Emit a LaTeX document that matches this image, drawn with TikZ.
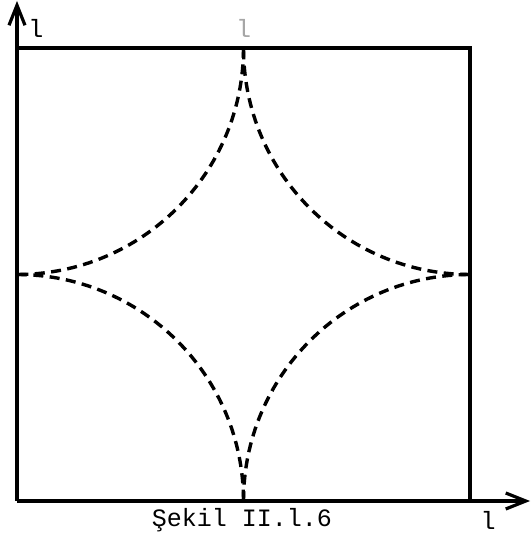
\documentclass[tikz,border=0pt]{standalone}
\usepackage{fontspec}
\setmonofont{Liberation Mono}
\usetikzlibrary{arrows.meta,positioning}

\begin{document}
\begin{tikzpicture}[x=0.5pt,y=0.5pt,
    axis/.style={line width=1.6pt,-{Straight Barb[length=10pt,width=8pt,line width=1.6pt]}},
    side/.style={line width=1.6pt},
    curve/.style={line width=1.7pt,dash pattern=on 5pt off 3.2pt},
    lbl/.style={font=\ttfamily\fontsize{12.5}{14}\selectfont,inner sep=0pt}]
    \useasboundingbox (0,0) rectangle (531,539);

    \coordinate (origin) at (17,38);
    \coordinate (xtip) at (530,38);
    \coordinate (ytip) at (17,538);
    \draw[axis] (origin) -- (xtip);
    \draw[axis] (origin) -- (ytip);

    \coordinate (topleft) at (17,491);
    \coordinate (topright) at (470,491);
    \coordinate (botright) at (470,38);
    \draw[side] (topleft) -- (topright) -- (botright);

    \coordinate (top) at (243.5,491);
    \coordinate (left) at (17,264.5);
    \coordinate (bottom) at (243.5,38);
    \coordinate (right) at (470,264.5);
    \draw[curve] (top) arc[start angle=0,end angle=-90,radius=226.5];
    \draw[curve] (left) arc[start angle=90,end angle=0,radius=226.5];
    \draw[curve] (bottom) arc[start angle=180,end angle=90,radius=226.5];
    \draw[curve] (right) arc[start angle=270,end angle=180,radius=226.5];

    \node[lbl] (ylab) at (36,511) {l};
    \node[lbl,text=black!35] (toplab) at (243.5,511) {l};
    \node[lbl] (xlab) at (488,19) {l};
    \node[lbl] (caption) at (242,19) {Şekil II.l.6};
\end{tikzpicture}
\end{document}
